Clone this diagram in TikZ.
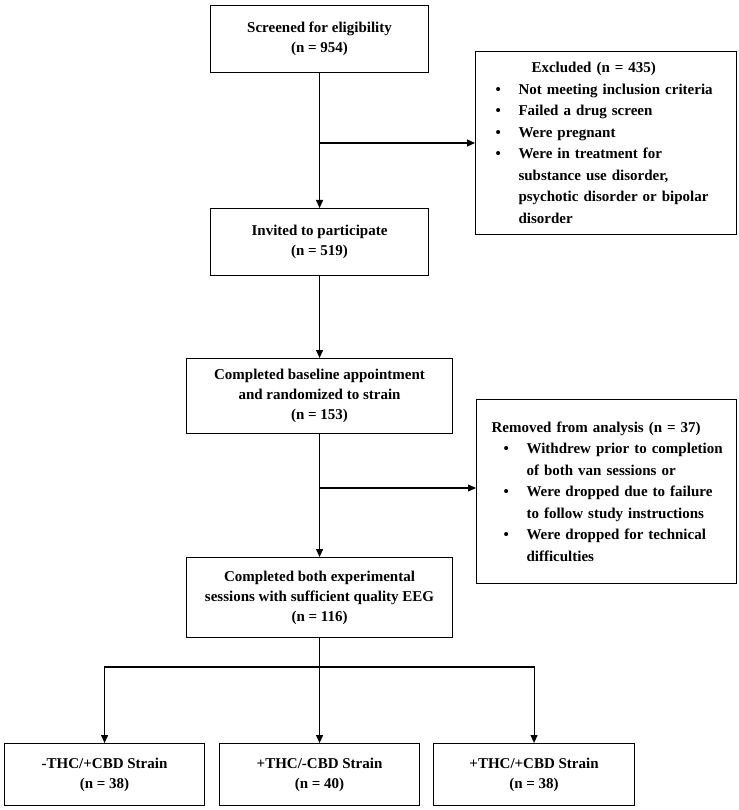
\documentclass[tikz,border=0pt]{standalone}
\usepackage{fontspec}
\setmainfont{Liberation Serif}
\usetikzlibrary{positioning,arrows.meta}
\newcommand{\bul}{\makebox[23pt][l]{\textbullet}}
\newcommand{\ind}{\hspace*{23pt}}
\begin{document}
\begin{tikzpicture}[x=1pt,y=-1pt,
    box/.style={draw, line width=1.1pt, anchor=north west, align=center, inner sep=0pt,
                font=\fontsize{15}{20}\selectfont\bfseries},
    side/.style={draw, line width=1.1pt, anchor=north west, align=left, inner sep=0pt,
                 font=\fontsize{15}{21.5}\selectfont\bfseries},
    flow/.style={line width=1.1pt, -{Triangle[length=8pt,width=7pt]}}]
    \useasboundingbox (0,0) rectangle (738,810);

    % main column
    \node [box, minimum width=218pt, minimum height=67pt] (screen) at (210,5) {Screened for eligibility\\(n = 954)};
    \node [box, minimum width=218pt, minimum height=67pt] (invite) at (210,208) {Invited to participate\\(n = 519)};
    \node [box, minimum width=266pt, minimum height=75pt] (base) at (186,358) {Completed baseline appointment\\and randomized to strain\\(n = 153)};
    \node [box, minimum width=266pt, minimum height=80pt] (eeg) at (186,557) {Completed both experimental\\sessions with sufficient quality EEG\\(n = 116)};

    % side boxes
    \node [side, minimum width=261pt, minimum height=183pt, text width=261pt] (excl) at (475,51)
        {\hspace*{56pt}Excluded (n = 435)\\
         \hspace*{20pt}\bul Not meeting inclusion criteria\\
         \hspace*{20pt}\bul Failed a drug screen\\
         \hspace*{20pt}\bul Were pregnant\\
         \hspace*{20pt}\bul Were in treatment for\\
         \hspace*{20pt}\ind substance use disorder,\\
         \hspace*{20pt}\ind psychotic disorder or bipolar\\
         \hspace*{20pt}\ind disorder};
    \node [side, minimum width=260pt, minimum height=184pt, text width=260pt] (remov) at (476,399)
        {\hspace*{15pt}Removed from analysis (n = 37)\\
         \hspace*{27pt}\bul Withdrew prior to completion\\
         \hspace*{27pt}\ind of both van sessions or\\
         \hspace*{27pt}\bul Were dropped due to failure\\
         \hspace*{27pt}\ind to follow study instructions\\
         \hspace*{27pt}\bul Were dropped for technical\\
         \hspace*{27pt}\ind difficulties};

    % strain groups
    \node [box, minimum width=200pt, minimum height=62pt] (grpa) at (4,743) {-THC/+CBD Strain\\(n = 38)};
    \node [box, minimum width=200pt, minimum height=62pt] (grpb) at (219,743) {+THC/-CBD Strain\\(n = 40)};
    \node [box, minimum width=201pt, minimum height=62pt] (grpc) at (433,743) {+THC/+CBD Strain\\(n = 38)};

    % connectors
    \draw [flow] (screen) -- (invite);
    \draw [flow] (invite.south) -- (invite.south |- base.north);
    \draw [flow] (base.south) -- (base.south |- eeg.north);
    \coordinate (j1) at (invite.north |- 0,143);
    \draw [flow] (j1) -- (excl.west |- j1);
    \coordinate (j2) at (base.south |- 0,488);
    \draw [flow] (j2) -- (remov.west |- j2);
    \coordinate (split) at (eeg.south |- 0,667);
    \draw [line width=1.1pt] (eeg.south) -- (split);
    \draw [flow] (split) -| (grpa.north);
    \draw [flow] (split) -- (grpb.north -| split);
    \draw [flow] (split) -| (grpc.north);
\end{tikzpicture}
\end{document}
